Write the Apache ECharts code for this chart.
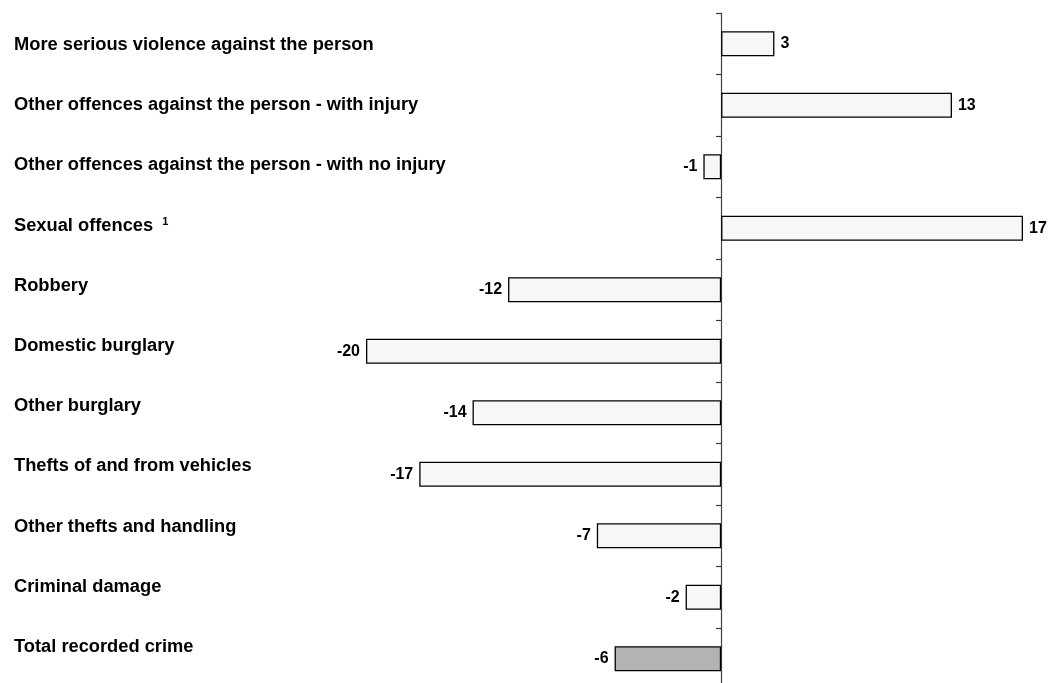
<!DOCTYPE html>
<html>
<head>
<meta charset="utf-8">
<script src="https://cdn.jsdelivr.net/npm/echarts@6/dist/echarts.min.js"></script>
<style>
  html, body { margin: 0; padding: 0; background: #fff; }
  #chart { width: 1050px; height: 683px; }
</style>
</head>
<body>
<div id="chart"></div>
<script>
var categories = [
    'More serious violence against the person',
    'Other offences against the person - with injury',
    'Other offences against the person - with no injury',
    'Sexual offences',
    'Robbery',
    'Domestic burglary',
    'Other burglary',
    'Thefts of and from vehicles',
    'Other thefts and handling',
    'Criminal damage',
    'Total recorded crime'
];
var footnotes = ['', '', '', '1', '', '', '', '', '', '', ''];
var changes = [3, 13, -1, 17, -12, -20, -14, -17, -7, -2, -6];
var totalIndex = 10;

var myChart = echarts.init(document.getElementById('chart'), null, { renderer: 'canvas' });

var barData = changes.map(function (v, i) {
    return {
        value: v,
        itemStyle: { color: i === totalIndex ? '#b3b3b3' : '#f7f7f7' },
        label: { position: v < 0 ? 'left' : 'right' }
    };
});

var option = {
    backgroundColor: '#ffffff',
    animation: false,
    grid: [
        { left: 366, right: 27, top: 13, height: 676.5, containLabel: false, outerBoundsMode: 'none' },
        { left: 14, width: 1, top: 15, height: 662, containLabel: false, outerBoundsMode: 'none' }
    ],
    xAxis: [
        { type: 'value', gridIndex: 0, min: -20, max: 17, show: false },
        { type: 'value', gridIndex: 1, min: 0, max: 1, show: false }
    ],
    yAxis: [
        {
            type: 'category',
            gridIndex: 0,
            inverse: true,
            data: categories,
            axisLine: { show: true, onZero: true, lineStyle: { color: '#444', width: 1.2 } },
            axisTick: { show: true, length: 5, lineStyle: { color: '#333', width: 1.2 } },
            axisLabel: { show: false },
            splitLine: { show: false }
        },
        {
            type: 'category',
            gridIndex: 1,
            inverse: true,
            data: categories,
            axisLine: { show: false },
            axisTick: { show: false },
            splitLine: { show: false },
            axisLabel: {
                align: 'left',
                margin: 0,
                color: '#000',
                fontFamily: 'Liberation Sans, Arial, sans-serif',
                fontWeight: 'bold',
                fontSize: 18.3,
                formatter: function (val, idx) {
                    return footnotes[idx] ? val + ' {sup|' + footnotes[idx] + '}' : val;
                },
                rich: {
                    sup: {
                        fontFamily: 'Liberation Sans, Arial, sans-serif',
                        fontWeight: 'bold',
                        fontSize: 11,
                        color: '#000',
                        verticalAlign: 'top',
                        padding: [0, 0, 0, 4]
                    }
                }
            }
        }
    ],
    series: [
        {
            type: 'bar',
            xAxisIndex: 0,
            yAxisIndex: 0,
            data: barData,
            barWidth: 25,
            itemStyle: { borderColor: '#000', borderWidth: 1.3 },
            label: {
                show: true,
                distance: 6,
                color: '#000',
                fontFamily: 'Liberation Sans, Arial, sans-serif',
                fontWeight: 'bold',
                fontSize: 16
            }
        }
    ]
};

myChart.setOption(option);
</script>
</body>
</html>
